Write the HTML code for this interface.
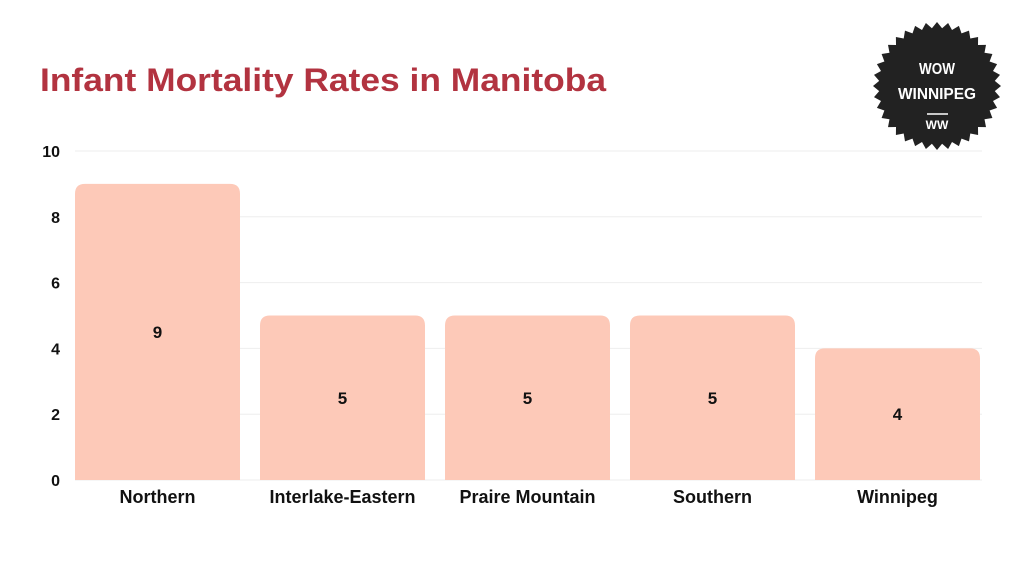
<!DOCTYPE html>
<html><head><meta charset="utf-8"><style>
body{margin:0;background:#fff;width:1024px;height:576px;overflow:hidden;font-family:"Liberation Sans",sans-serif}
</style></head><body>
<svg width="1024" height="576">
<text x="40" y="91" font-size="32" font-weight="bold" fill="#b23340" textLength="566" lengthAdjust="spacingAndGlyphs">Infant Mortality Rates in Manitoba</text>
<g>
<polygon id="star" fill="#222"/>
<text x="937" y="74" fill="#fff" font-size="16" font-weight="bold" text-anchor="middle" textLength="36" lengthAdjust="spacingAndGlyphs">WOW</text>
<text x="937" y="99" fill="#fff" font-size="16" font-weight="bold" text-anchor="middle" textLength="78" lengthAdjust="spacingAndGlyphs">WINNIPEG</text>
<line x1="927" x2="948" y1="114" y2="114" stroke="#fff" stroke-width="1.5"/>
<text x="937" y="129" fill="#fff" font-size="12" font-weight="bold" text-anchor="middle">WW</text>
</g>
<g id="grid"></g><g id="bars"></g>
</svg>
<script>
const categories=["Northern","Interlake-Eastern","Praire Mountain","Southern","Winnipeg"];
const values=[9,5,5,5,4];
const ticks=[0,2,4,6,8,10];
const ns="http://www.w3.org/2000/svg";
const y=v=>480-v*32.9;
const x0=75,band=185,bw=165;
function mk(t,a,p,txt){const e=document.createElementNS(ns,t);for(const k in a)e.setAttribute(k,a[k]);if(txt!==undefined)e.textContent=txt;p.appendChild(e);return e;}
const g=document.getElementById('grid'),b=document.getElementById('bars');
ticks.forEach(t=>{
 const l=mk('line',{x1:75,x2:982,y1:y(t),y2:y(t),stroke:'#eeeeee'},g);
 
 
 const tx=mk('text',{x:60,y:y(t)+6,'text-anchor':'end','font-size':16,'font-weight':'bold',fill:'#111'},g,t);
 
 
});
categories.forEach((c,i)=>{
 const bx=x0+band*i,top=y(values[i]);
 const p=mk('path',{d:`M${bx},480 V${top+10} Q${bx},${top} ${bx+10},${top} H${bx+bw-10} Q${bx+bw},${top} ${bx+bw},${top+10} V480 Z`,fill:'#fdc9b8'},b);
 
 
 const v=mk('text',{x:bx+bw/2,y:(top+480)/2+6,'text-anchor':'middle','font-size':17,'font-weight':'bold',fill:'#111'},b,values[i]);
 
 
 const lb=mk('text',{x:bx+bw/2,y:503,'text-anchor':'middle','font-size':18,'font-weight':'bold',fill:'#111'},b,c);
 
 
});
let pts=[];const N=36;
for(let k=0;k<2*N;k++){const r=k%2?58:64,a=Math.PI*k/N;pts.push((937+r*Math.cos(a)).toFixed(1)+','+(86+r*Math.sin(a)).toFixed(1));}
document.getElementById('star').setAttribute('points',pts.join(' '));
</script>
</body></html>
